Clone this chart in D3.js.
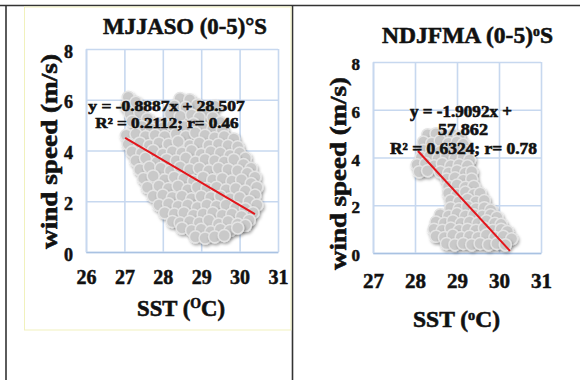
<!DOCTYPE html>
<html><head><meta charset="utf-8">
<script src="https://cdn.jsdelivr.net/npm/d3@7"></script>
<style>html,body{margin:0;padding:0;background:#fff;} svg{display:block;}</style>
</head><body>
<svg id="c" width="580" height="380"></svg>
<script>
// ---------- DATA ----------
const windTicks = [0, 2, 4, 6, 8];
const mjjasoXTicks = [26, 27, 28, 29, 30, 31];
const ndjfmaXTicks = [27, 28, 29, 30, 31];

// MJJASO (0-5)°S : [SST, wind speed]
const mjjasoPoints = [
[27.10,6.10],[27.05,5.75],[27.30,5.90],[27.15,5.45],[27.40,5.50],
[28.45,6.05],[28.70,6.00],[28.90,5.80],[28.30,5.75],[28.60,5.70],[29.35,5.75],[29.15,5.55],
[27.60,5.25],[27.90,5.05],[28.20,5.45],[28.45,5.35],[28.75,5.40],[28.95,5.30],[29.30,5.30],[29.50,5.10],
[27.20,5.15],[27.45,4.95],[27.70,4.85],[28.00,4.90],[28.25,5.00],[28.55,4.95],[28.80,5.05],[29.05,4.90],[29.30,4.85],[29.55,4.80],
[27.05,4.60],[27.30,4.65],[27.55,4.55],[27.80,4.60],[28.05,4.55],[28.35,4.65],[28.60,4.55],[28.85,4.70],[29.10,4.60],[29.35,4.50],[29.60,4.55],[29.85,4.45],
[27.10,4.25],[27.40,4.30],[27.65,4.20],[27.90,4.30],[28.15,4.25],[28.40,4.35],[28.70,4.20],[28.95,4.30],[29.20,4.20],[29.45,4.25],[29.70,4.20],[29.95,4.15],
[27.20,3.95],[27.45,3.90],[27.75,4.00],[28.00,3.85],[28.25,3.95],[28.50,3.90],[28.75,4.00],[29.00,3.85],[29.25,3.95],[29.50,3.90],[29.75,3.80],[30.00,3.90],[30.15,3.70],
[27.30,3.60],[27.55,3.70],[27.85,3.55],[28.10,3.65],[28.35,3.60],[28.60,3.70],[28.85,3.55],[29.10,3.65],[29.35,3.60],[29.60,3.55],[29.85,3.65],[30.10,3.45],[30.30,3.30],
[27.40,3.25],[27.65,3.35],[27.95,3.30],[28.20,3.20],[28.45,3.35],[28.70,3.25],[28.95,3.30],[29.20,3.20],[29.45,3.30],[29.70,3.25],[29.95,3.20],[30.20,3.10],[30.40,2.95],
[27.50,2.90],[27.75,3.00],[28.05,2.85],[28.30,2.95],[28.55,2.90],[28.80,2.80],[29.05,2.95],[29.30,2.85],[29.55,2.90],[29.80,2.80],[30.05,2.85],[30.30,2.70],[30.45,2.55],
[27.60,2.55],[27.90,2.60],[28.15,2.50],[28.40,2.60],[28.65,2.45],[28.90,2.55],[29.15,2.50],[29.40,2.55],[29.65,2.45],[29.90,2.50],[30.15,2.40],[30.40,2.25],
[27.75,2.20],[28.00,2.25],[28.25,2.15],[28.50,2.20],[28.75,2.10],[29.00,2.20],[29.25,2.15],[29.50,2.20],[29.75,2.10],[30.00,2.15],[30.25,2.00],[30.45,1.85],
[27.90,1.85],[28.15,1.90],[28.40,1.80],[28.65,1.85],[28.90,1.75],[29.15,1.85],[29.40,1.80],[29.65,1.85],[29.90,1.75],[30.15,1.70],[30.35,1.55],
[28.05,1.55],[28.30,1.50],[28.55,1.55],[28.80,1.45],[29.05,1.50],[29.30,1.55],[29.55,1.45],[29.80,1.50],[30.05,1.40],[30.25,1.25],
[28.25,1.20],[28.45,1.15],[28.70,1.20],[28.95,1.15],[29.20,1.25],[29.45,1.10],[29.70,1.20],[29.95,1.10],[30.15,1.05],
[28.50,0.95],[28.75,0.85],[29.00,0.90],[29.25,0.80],[29.50,0.90],[29.75,0.85],[29.95,0.95],
[28.85,0.60],[29.10,0.55],[29.35,0.60],[29.60,0.65]
];

// NDJFMA (0-5)ºS : [SST, wind speed]
const ndjfmaPoints = [
[28.30,4.95],[28.50,5.00],[28.70,4.90],[28.90,4.95],[29.05,4.85],
[28.20,4.65],[28.40,4.60],[28.60,4.70],[28.80,4.60],[29.00,4.65],[29.15,4.55],
[28.20,4.30],[28.40,4.35],[28.60,4.25],[28.80,4.35],[29.00,4.30],[29.20,4.25],
[28.15,4.00],[28.35,4.05],[28.55,3.95],[28.75,4.05],[28.95,3.95],[29.15,4.00],[29.30,3.90],
[28.05,3.70],[28.25,3.75],[28.45,3.65],[28.65,3.75],[28.85,3.65],[29.05,3.70],[29.25,3.65],
[28.10,3.40],[28.30,3.45],[28.60,3.40],[28.80,3.35],[29.00,3.45],[29.20,3.35],[29.35,3.40],
[28.75,3.10],[28.95,3.15],[29.15,3.05],[29.35,3.10],
[28.80,2.80],[29.00,2.85],[29.20,2.75],[29.40,2.80],
[28.80,2.50],[29.00,2.45],[29.20,2.55],[29.40,2.45],[29.55,2.50],
[28.85,2.20],[29.05,2.15],[29.25,2.25],[29.45,2.15],[29.65,2.20],
[28.85,1.90],[29.05,1.85],[29.25,1.95],[29.45,1.85],[29.65,1.90],[29.80,1.80],
[28.60,1.60],[28.80,1.55],[29.00,1.65],[29.20,1.55],[29.40,1.60],[29.60,1.55],[29.80,1.60],[29.95,1.50],
[28.50,1.30],[28.70,1.25],[28.90,1.35],[29.10,1.25],[29.30,1.30],[29.50,1.25],[29.70,1.35],[29.90,1.25],[30.05,1.20],
[28.45,1.00],[28.65,0.95],[28.85,1.05],[29.05,0.95],[29.25,1.00],[29.45,0.95],[29.65,1.05],[29.85,0.95],[30.05,1.00],[30.20,0.90],
[28.50,0.70],[28.70,0.65],[28.90,0.75],[29.10,0.65],[29.30,0.70],[29.50,0.65],[29.70,0.75],[29.90,0.65],[30.10,0.70],[30.30,0.60],
[28.75,0.40],[28.95,0.35],[29.15,0.40],[29.35,0.35],[29.55,0.40],[29.75,0.35],[29.95,0.40],[30.15,0.35]
];

// trend lines: [slope, intercept] and SST extent
const mjjasoFit = [-0.8887, 28.507];
const mjjasoFitRange = [27.02, 30.40];
const ndjfmaFit = [-1.9092, 57.862];
const ndjfmaFitRange = [28.07, 30.26];

const mjjasoEquation = ["y = -0.8887x + 28.507", "R\u00B2 = 0.2112; r= 0.46"];
const ndjfmaEquation = ["y = -1.9092x +", "57.862", "R\u00B2 = 0.6324; r= 0.78"];

// ---------- DRAW ----------
const svg = d3.select("#c");
const FONT = "'Liberation Serif', 'Times New Roman', serif";
const INK = "#111";

const defs = svg.append("defs");
defs.append("filter").attr("id", "sh").attr("x", "-60%").attr("y", "-60%").attr("width", "220%").attr("height", "220%")
  .append("feDropShadow").attr("dx", 1.2).attr("dy", 2).attr("stdDeviation", 1.5)
  .attr("flood-color", "#000").attr("flood-opacity", 0.35);

// table frame
svg.append("line").attr("x1", 0).attr("x2", 580).attr("y1", 5.5).attr("y2", 5.5).attr("stroke", "#333").attr("stroke-width", 1.6);
svg.append("line").attr("x1", 6).attr("x2", 6).attr("y1", 5).attr("y2", 380).attr("stroke", "#333").attr("stroke-width", 1.6);
svg.append("line").attr("x1", 292.5).attr("x2", 292.5).attr("y1", 5).attr("y2", 380).attr("stroke", "#333").attr("stroke-width", 1.6);
// chart-area border (left chart)
svg.append("rect").attr("x", 24.5).attr("y", 7).attr("width", 266.5).attr("height", 323)
  .attr("fill", "none").attr("stroke", "#f1f1bd").attr("stroke-width", 1);

function heavy(t, sw) {
  return t.attr("font-family", FONT).attr("font-weight", "bold").attr("fill", INK)
    .attr("stroke", INK).attr("stroke-width", sw).attr("paint-order", "stroke");
}

function fitText(parent, tx, ty, rot, size, targetW, build) {
  const g = parent.append("g").attr("transform", `translate(${tx},${ty}) rotate(${rot})`);
  const t = g.append("text").attr("text-anchor", "middle").attr("font-size", size);
  heavy(t, 0.6);
  build(t);
  const w = t.node().getBBox().width;
  if (targetW && w > 0) t.attr("transform", `scale(${targetW / w},1)`);
  return t;
}

function panel(cfg) {
  const x = d3.scaleLinear().domain(cfg.xDomain).range(cfg.xRange);
  const y = d3.scaleLinear().domain([0, 8]).range(cfg.yRange);
  const g = svg.append("g");
  const h = cfg.yRange[0] - cfg.yRange[1];
  const w = cfg.xRange[1] - cfg.xRange[0];

  // vertical grid
  const gx = g.append("g").attr("transform", `translate(0,${y(0)})`)
    .call(d3.axisBottom(x).tickValues(cfg.xTicks).tickSize(-h).tickSizeOuter(0).tickFormat(""));
  gx.select(".domain").attr("stroke", "#a9c2e2").attr("stroke-width", 1.6);
  gx.selectAll(".tick line").attr("stroke", "#c7d8ef").attr("stroke-width", 1.6);
  // horizontal grid
  const gy = g.append("g").attr("transform", `translate(${x(cfg.xDomain[0])},0)`)
    .call(d3.axisLeft(y).tickValues(windTicks).tickSize(-w).tickSizeOuter(0).tickFormat(""));
  gy.select(".domain").attr("stroke", "#c7d8ef").attr("stroke-width", 1.6);
  gy.selectAll(".tick line").attr("stroke", "#c7d8ef").attr("stroke-width", 1.6);
  gx.raise();

  // points
  g.append("g").selectAll("circle").data(cfg.points).join("circle")
    .attr("cx", d => x(d[0])).attr("cy", d => y(d[1])).attr("r", 6)
    .attr("fill", "#c9c9c9").attr("stroke", "#e4e4e4").attr("stroke-width", 1.5)
    .attr("filter", "url(#sh)");

  // trend line
  const fx = cfg.fitRange;
  g.append("line")
    .attr("x1", x(fx[0])).attr("y1", y(cfg.fit[0] * fx[0] + cfg.fit[1]))
    .attr("x2", x(fx[1])).attr("y2", y(cfg.fit[0] * fx[1] + cfg.fit[1]))
    .attr("stroke", "#e3151b").attr("stroke-width", 2);

  // equation text
  cfg.eq.forEach((s, i) => {
    const p = cfg.eqPos[i];
    fitText(g, p[0], p[1], 0, cfg.eqSize, p[2], t => t.text(s));
  });

  // tick labels
  const fmt = d3.format("d");
  const lx = g.append("g").attr("transform", `translate(0,${y(0)})`)
    .call(d3.axisBottom(x).tickValues(cfg.xTicks).tickFormat(fmt).tickSize(0).tickPadding(cfg.xPad));
  lx.select(".domain").remove();
  heavy(lx.selectAll("text"), 0.5).attr("font-size", cfg.xTickSize);
  const ly = g.append("g").attr("transform", `translate(${x(cfg.xDomain[0])},0)`)
    .call(d3.axisLeft(y).tickValues(windTicks).tickFormat(fmt).tickSize(0).tickPadding(13));
  ly.select(".domain").remove();
  heavy(ly.selectAll("text"), 0.5).attr("font-size", cfg.yTickSize).attr("dy", "0.45em");

  // titles
  fitText(g, cfg.title[0], cfg.title[1], 0, 24, cfg.title[2], cfg.titleBuild);
  fitText(g, cfg.xTitle[0], cfg.xTitle[1], 0, 23, cfg.xTitle[2], cfg.xTitleBuild);
  fitText(g, cfg.yTitle[0], cfg.yTitle[1], -90, 24, cfg.yTitle[2], t => t.text("wind speed (m/s)"));
}

panel({
  xDomain: [26, 31], xRange: [86, 278], yRange: [252, 49], xTicks: mjjasoXTicks,
  points: mjjasoPoints, fit: mjjasoFit, fitRange: mjjasoFitRange,
  eq: mjjasoEquation, eqSize: 15, eqPos: [[166.5, 111, 157], [167, 128, 144]],
  xPad: 18, xTickSize: 20, yTickSize: 18,
  title: [185, 34, 164], titleBuild: t => t.text("MJJASO (0-5)\u00B0S"),
  xTitle: [181, 316, 88], xTitleBuild: t => {
    t.append("tspan").text("SST (");
    t.append("tspan").attr("font-size", 14).attr("dy", -8).text("O");
    t.append("tspan").attr("dy", 8).text("C)");
  },
  yTitle: [57, 151.5, 195]
});

panel({
  xDomain: [27, 31], xRange: [373, 541], yRange: [253, 62], xTicks: ndjfmaXTicks,
  points: ndjfmaPoints, fit: ndjfmaFit, fitRange: ndjfmaFitRange,
  eq: ndjfmaEquation, eqSize: 16, eqPos: [[461, 117, 102], [463, 135, 50], [463.5, 154, 147]],
  xPad: 20, xTickSize: 21, yTickSize: 17,
  title: [467.5, 43, 171], titleBuild: t => {
    t.append("tspan").text("NDJFMA (0-5)");
    t.append("tspan").attr("font-size", 14).attr("dy", -7).text("o");
    t.append("tspan").attr("dy", 7).text("S");
  },
  xTitle: [456.5, 327, 87], xTitleBuild: t => {
    t.append("tspan").text("SST (");
    t.append("tspan").attr("font-size", 14).attr("dy", -7).text("o");
    t.append("tspan").attr("dy", 7).text("C)");
  },
  yTitle: [346, 173.5, 193]
});
</script>
</body></html>
